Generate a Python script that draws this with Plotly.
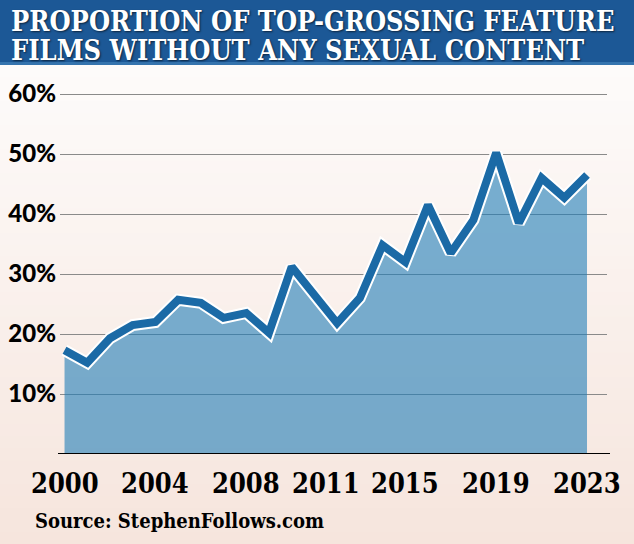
import plotly.graph_objects as go

# ---- data ----
years = list(range(2000, 2024))
share_no_sex = [17.3, 15.2, 19.3, 21.5, 22.0, 25.7, 25.2, 22.7, 23.5, 20.2,
                31.2, 26.5, 21.8, 26.0, 34.8, 32.0, 41.5, 33.5, 39.0, 50.2,
                38.5, 46.0, 42.7, 46.5]
x_tick_years = [2000, 2004, 2008, 2011, 2015, 2019, 2023]
y_tick_vals = [10, 20, 30, 40, 50, 60]
y_tick_text = [f"{v}%" for v in y_tick_vals]
title_lines = ["PROPORTION OF TOP-GROSSING FEATURE", "FILMS WITHOUT ANY SEXUAL CONTENT"]
source_text = "Source: StephenFollows.com"

W, H = 634, 544
L, R, T, B = 60, 27, 91, 90
PW, PH = W - L - R, H - T - B


def px(x):
    return (x - L) / PW


def py(y):
    return (H - B - y) / PH


SLAB = "DejaVu Serif Condensed, DejaVu Serif, serif"
SANS = "Lato, Roboto, Arial, sans-serif"

fig = go.Figure()
fig.add_trace(go.Scatter(x=years, y=share_no_sex, mode="lines", fill="tozeroy",
                         fillcolor="rgba(32,125,183,0.60)", line=dict(width=0),
                         hoverinfo="skip", showlegend=False))
fig.add_trace(go.Scatter(x=years, y=share_no_sex, mode="lines",
                         line=dict(color="white", width=12),
                         hoverinfo="skip", showlegend=False))
fig.add_trace(go.Scatter(x=years, y=share_no_sex, mode="lines",
                         line=dict(color="#1b6aa6", width=8),
                         showlegend=False))

shapes = []
# background gradient bands
n = 40
top_c, bot_c = (253, 251, 250), (246, 229, 221)
for i in range(n):
    t = i / (n - 1)
    c = tuple(round(top_c[k] + (bot_c[k] - top_c[k]) * t) for k in range(3))
    y0 = py(65 + (H - 65) * i / n)
    y1 = py(65 + (H - 65) * (i + 1) / n)
    shapes.append(dict(type="rect", xref="paper", yref="paper", layer="below",
                       x0=px(0), x1=px(W), y0=y1 - 0.002, y1=y0,
                       fillcolor="rgb(%d,%d,%d)" % c, line=dict(width=0)))
# title banner
shapes.append(dict(type="rect", xref="paper", yref="paper", layer="above",
                   x0=px(0), x1=px(W), y0=py(65), y1=py(0),
                   fillcolor="#1c5896", line=dict(width=0)))
shapes.append(dict(type="rect", xref="paper", yref="paper", layer="above",
                   x0=px(0), x1=px(W), y0=py(65), y1=py(62),
                   fillcolor="#3574ae", line=dict(width=0)))
# baseline
shapes.append(dict(type="line", xref="paper", yref="y", layer="above",
                   x0=px(58), x1=px(610), y0=-0.25, y1=-0.25,
                   line=dict(color="black", width=5)))

annotations = []
for i, line in enumerate(title_lines):
    annotations.append(dict(text=line, xref="paper", yref="paper",
                            x=px(9), y=py(21 + 29 * i), xanchor="left", yanchor="middle",
                            showarrow=False,
                            font=dict(family=SLAB, size=27, color="white", weight="bold",
                                      shadow="1px 1px 2px rgba(0,0,0,0.6)")))
annotations.append(dict(text=source_text, xref="paper", yref="paper",
                        x=px(33), y=py(521), xanchor="left", yanchor="middle",
                        showarrow=False,
                        font=dict(family=SLAB, size=20, color="black", weight="bold")))
# x-axis year labels (2011 label sits slightly right of its year, as in the source)
label_shift = {2011: 12}
for yr in x_tick_years:
    annotations.append(dict(text=str(yr), xref="x", yref="paper",
                            x=yr, y=py(483), xanchor="center", yanchor="middle",
                            xshift=label_shift.get(yr, 0), showarrow=False,
                            font=dict(family=SLAB, size=27, color="black", weight="bold")))

fig.update_layout(
    width=W, height=H,
    margin=dict(l=L, r=R, t=T, b=B, pad=0),
    paper_bgcolor="rgb(246,229,221)",
    plot_bgcolor="rgba(0,0,0,0)",
    shapes=shapes,
    annotations=annotations,
    xaxis=dict(range=[1999.8, 2023.88], tickvals=x_tick_years,
               showticklabels=False,
               showgrid=False, zeroline=False, showline=False, ticks="",
               automargin=False, fixedrange=True),
    yaxis=dict(range=[0, 60.5], tickvals=y_tick_vals, ticktext=y_tick_text,
               showgrid=True, gridcolor="#8a8a8a", gridwidth=1.3,
               zeroline=False, showline=False, ticks="", ticklabelstandoff=3,
               automargin=False,
               tickfont=dict(family=SANS, size=24, color="black", weight=900),
               fixedrange=True),
    showlegend=False,
)

fig.write_html("out.html", config={"displayModeBar": False},
               post_script="document.body.style.margin='0';document.body.style.padding='0';")
